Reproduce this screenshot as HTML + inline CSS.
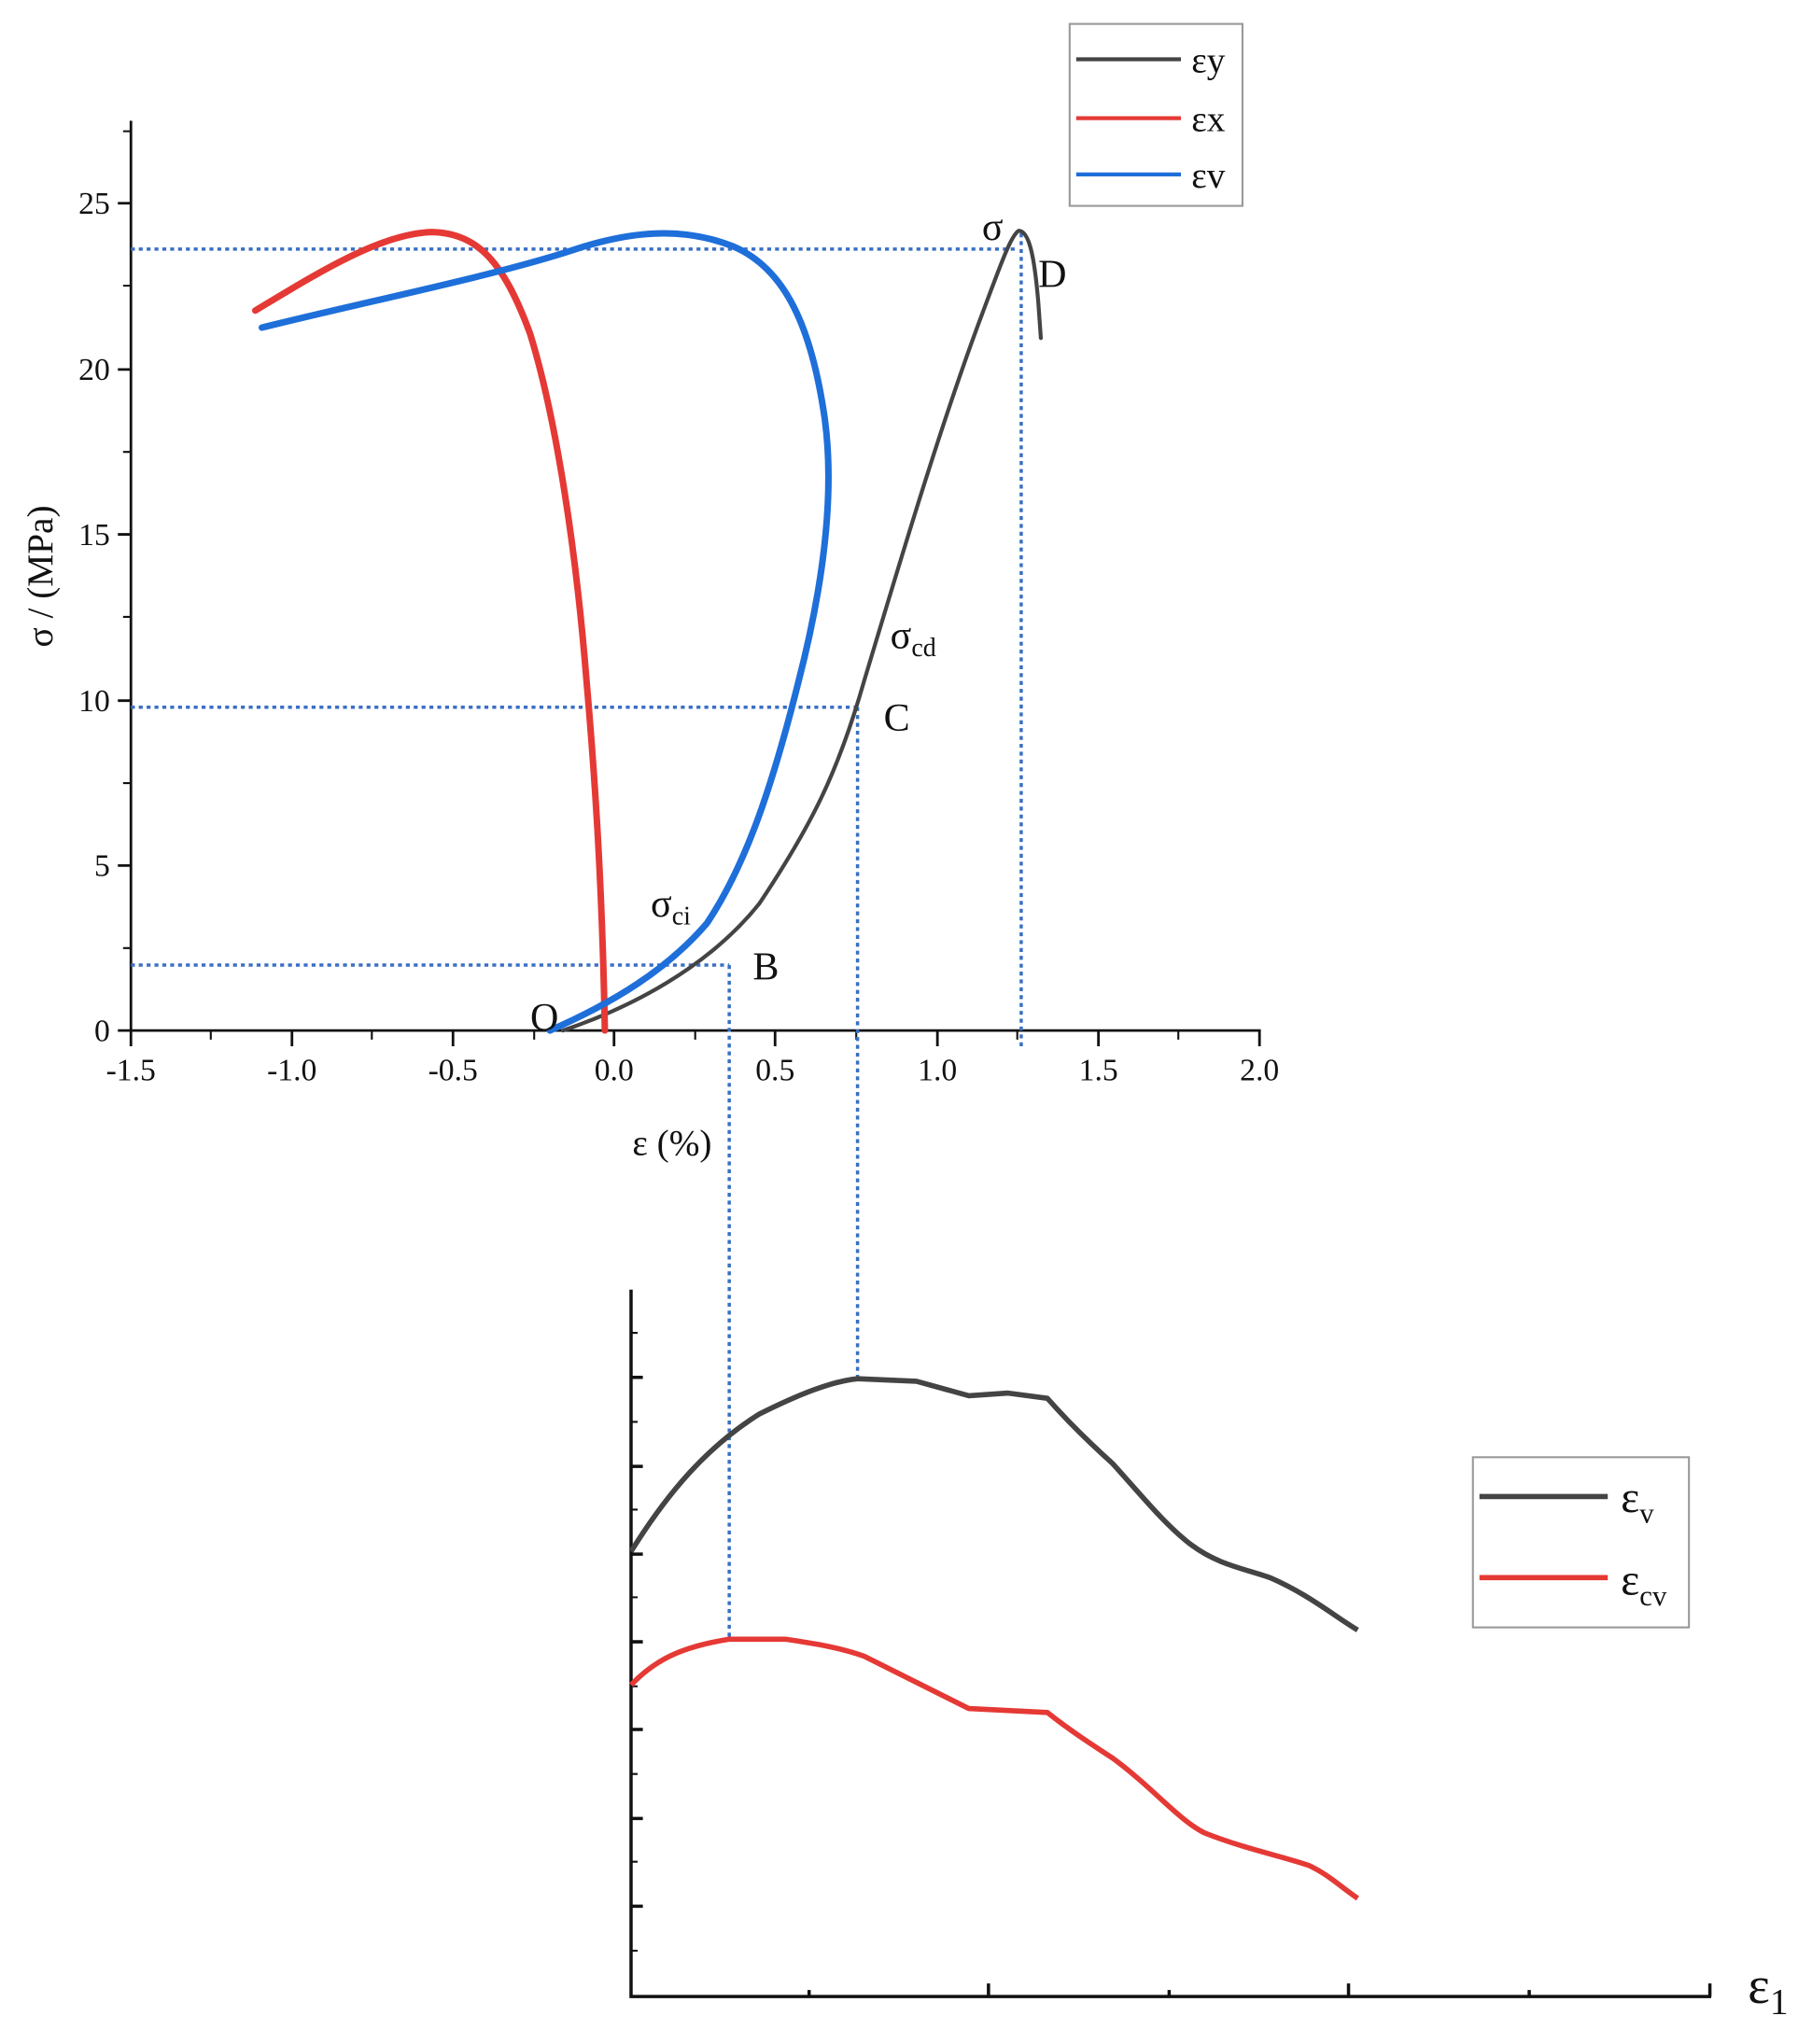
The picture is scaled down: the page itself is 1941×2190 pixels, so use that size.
<!DOCTYPE html>
<html><head><meta charset="utf-8"><style>
html,body{margin:0;padding:0;background:#fff}
svg{display:block}
text{font-family:"Liberation Serif",serif;fill:#111}
</style></head><body>
<svg width="1941" height="2190" viewBox="0 0 1384 1561" xmlns="http://www.w3.org/2000/svg">
<g stroke="#111" stroke-width="2" fill="none">
<path d="M100,92 V787 H963"/>
<path d="M100,787v12 M223,787v12 M346,787v12 M469,787v12 M592,787v12 M716,787v12 M839,787v12 M962,787v12"/>
<path d="M161,787v7 M284,787v7 M408,787v7 M531,787v7 M654,787v7 M777,787v7 M900,787v7" stroke-width="1.5"/>
<path d="M90,787h10 M90,661h10 M90,535h10 M90,408h10 M90,282h10 M90,155h10"/>
<path d="M94,724h6 M94,598h6 M94,471h6 M94,345h6 M94,218h6 M94,100h6" stroke-width="1.5"/>
</g>
<g font-size="24" text-anchor="middle">
<text x="100" y="825">-1.5</text><text x="223" y="825">-1.0</text><text x="346" y="825">-0.5</text>
<text x="469" y="825">0.0</text><text x="592" y="825">0.5</text><text x="716" y="825">1.0</text>
<text x="839" y="825">1.5</text><text x="962" y="825">2.0</text>
</g>
<g font-size="24" text-anchor="end">
<text x="84" y="795">0</text><text x="84" y="669">5</text><text x="84" y="543">10</text>
<text x="84" y="416">15</text><text x="84" y="290">20</text><text x="84" y="163">25</text>
</g>
<text x="483" y="882" font-size="28">ε   (%)</text>
<text transform="translate(40,440) rotate(-90)" font-size="28" text-anchor="middle">σ / (MPa)</text>
<g stroke="#3a6fc4" stroke-width="2.5" stroke-dasharray="3,3" fill="none">
<path d="M100,190H778 M780,178V800"/>
<path d="M100,540H655 M655,540V1055"/>
<path d="M100,737H557 M557,737V1250"/>
</g>
<g fill="none" stroke-linejoin="round" stroke-linecap="round">
<path d="M430,787 C480,770 540,740 580,690 C620,630 640,590 660,520 C690,420 720,320 750,240 C765,200 772,180 778,176 C786,176 790,195 793,230 L795,258" stroke="#444" stroke-width="3"/>
<path d="M195,237 C240,210 290,178 330,177 C365,178 385,200 405,255 C425,320 440,420 448,520 C455,600 460,680 462,787" stroke="#e53935" stroke-width="5"/>
<path d="M200,250 C280,230 380,210 440,190 C480,177 520,172 560,188 C600,205 620,250 630,320 C638,380 628,450 610,520 C590,600 570,660 540,705 C510,740 470,765 420,787" stroke="#1e6fd9" stroke-width="5"/>
</g>
<g font-size="30">
<text x="750" y="183">σ</text><text x="793" y="219">D</text>
<text x="680" y="495">σ<tspan font-size="20" dy="6">cd</tspan></text>
<text x="675" y="558">C</text>
<text x="497" y="700">σ<tspan font-size="20" dy="6">ci</tspan></text>
<text x="575" y="748">B</text><text x="405" y="787">O</text>
</g>
<rect x="817" y="18" width="132" height="139" fill="#fff" stroke="#999" stroke-width="1.5"/>
<path d="M822,45H902" stroke="#444" stroke-width="3"/>
<path d="M822,90H902" stroke="#e53935" stroke-width="3"/>
<path d="M822,133H902" stroke="#1e6fd9" stroke-width="3"/>
<g font-size="28"><text x="910" y="55">εy</text><text x="910" y="100">εx</text><text x="910" y="143">εv</text></g>
<g stroke="#111" stroke-width="2.5" fill="none">
<path d="M482,985 V1525 H1307"/>
<path d="M482,1052h9 M482,1120h9 M482,1187h9 M482,1254h9 M482,1321h9 M482,1389h9 M482,1456h9"/>
<path d="M482,1018h5 M482,1086h5 M482,1153h5 M482,1220h5 M482,1288h5 M482,1355h5 M482,1422h5 M482,1490h5" stroke-width="1.5"/>
<path d="M755,1525v-10 M1030,1525v-10 M1306,1525v-10 M618,1525v-5 M893,1525v-5 M1168,1525v-5"/>
</g>
<text x="1335" y="1530" font-size="40">ε<tspan font-size="28" dy="8">1</tspan></text>
<g fill="none" stroke-linejoin="round">
<path d="M482,1185 C510,1140 540,1105 580,1080 C610,1065 635,1055 655,1053 L700,1055 L740,1066 L770,1064 L800,1068 C815,1085 830,1100 850,1118 C870,1140 890,1165 910,1180 C930,1195 950,1198 970,1205 C1000,1218 1020,1235 1037,1245" stroke="#444" stroke-width="4"/>
<path d="M482,1287 C500,1268 520,1258 557,1252 L600,1252 C620,1255 640,1258 660,1265 C690,1280 720,1295 740,1305 L800,1308 C815,1320 830,1330 850,1343 C880,1365 900,1390 920,1400 C950,1412 980,1418 1000,1425 C1015,1432 1025,1442 1037,1450" stroke="#e53935" stroke-width="4"/>
</g>
<rect x="1125" y="1113" width="165" height="130" fill="#fff" stroke="#999" stroke-width="1.5"/>
<path d="M1130,1143H1228" stroke="#444" stroke-width="4"/>
<path d="M1130,1205H1228" stroke="#e53935" stroke-width="4"/>
<g font-size="34"><text x="1238" y="1155">ε<tspan font-size="22" dy="8">v</tspan></text>
<text x="1238" y="1218">ε<tspan font-size="22" dy="8">cv</tspan></text></g>
</svg>
</body></html>
